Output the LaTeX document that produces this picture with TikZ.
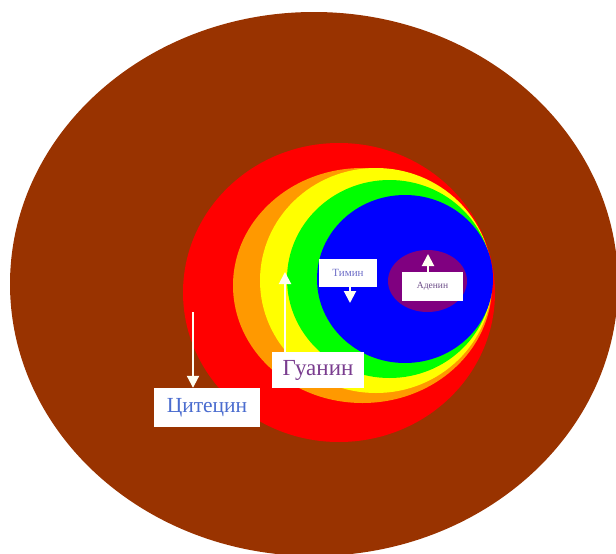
\documentclass[tikz,border=0pt]{standalone}
\usepackage{fontspec}
\setmainfont{Liberation Serif}
\usetikzlibrary{arrows.meta,positioning,calc}
\definecolor{cbrown}{HTML}{993300}
\definecolor{cred}{HTML}{FF0000}
\definecolor{corange}{HTML}{FF9900}
\definecolor{cyellow}{HTML}{FFFF00}
\definecolor{cgreen}{HTML}{00FF00}
\definecolor{cblue}{HTML}{0000FF}
\definecolor{cpurple}{HTML}{800080}
\definecolor{carrow}{HTML}{FFFFF2}
\definecolor{tcyt}{HTML}{4A6CCF}
\definecolor{tgua}{HTML}{7A3D8F}
\definecolor{ttim}{HTML}{6E6EC8}
\definecolor{tade}{HTML}{6A4A86}

\begin{document}
\begin{tikzpicture}[
  x=1pt, y=-1pt,
  tag/.style={fill=white, inner sep=0pt, align=center},
  ar/.style={-{Triangle[width=12pt,length=12pt]}, draw=carrow, line width=2pt},
]
\useasboundingbox (0,0) rectangle (616,554);

%% ---------- nested layers ----------
\fill[cbrown]  (314,284)   ellipse [x radius=304,   y radius=272];
\fill[cred]    (339,292.5) ellipse [x radius=156,   y radius=149.5];
\fill[corange] (362.5,285.5) ellipse [x radius=129.5, y radius=117.5];
\fill[cyellow] (376,280.5) ellipse [x radius=116,   y radius=112.5];
\fill[cgreen]  (389.5,279) ellipse [x radius=102.5, y radius=99];
\fill[cblue]   (405,279)   ellipse [x radius=88,    y radius=84];
\fill[cpurple] (427.5,281) ellipse [x radius=39.5,  y radius=31];

%% ---------- labels ----------
\node[tag, text=ttim, minimum width=58pt, minimum height=28pt,
      font=\fontsize{11}{12}\selectfont] (tim)
  at (348,273) {Тимин};
\node[tag, text=tade, minimum width=61pt, minimum height=29pt,
      font=\fontsize{9.5}{11}\selectfont] (ade)
  at (432.5,286.5) {Аденин};
\node[tag, text=tgua, minimum width=92pt, minimum height=36pt,
      font=\fontsize{23}{25}\selectfont] (gua)
  at (318,370) {Гуанин};
\node[tag, text=tcyt, minimum width=106pt, minimum height=39pt,
      font=\fontsize{21.5}{23}\selectfont] (cyt)
  at (207,407.5) {Цитецин};

%% ---------- arrows ----------
\coordinate (timTip) at (350,303);
\coordinate (adeTip) at (428,254);
\coordinate (guaTip) at (285,272);
\coordinate (cytTail) at (193,312);

\draw[ar] (timTip |- tim.south) -- (timTip);
\draw[ar] (adeTip |- ade.north) -- (adeTip);
\draw[ar] (guaTip |- gua.north) -- (guaTip);
\draw[ar] (cytTail) -- (cytTail |- cyt.north);

\end{tikzpicture}
\end{document}
